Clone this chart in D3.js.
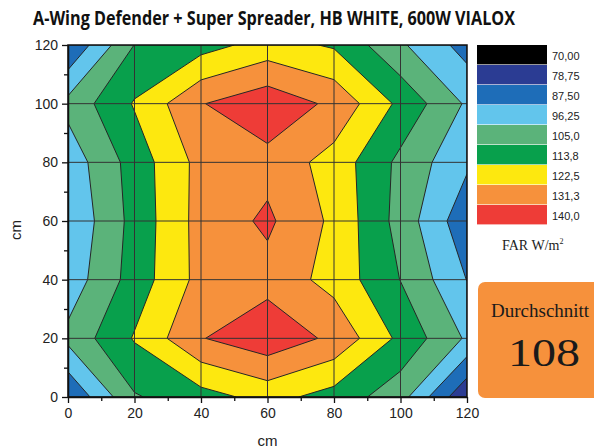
<!DOCTYPE html>
<html>
<head>
<meta charset="utf-8">
<script src="https://cdn.jsdelivr.net/npm/d3@7"></script>
<style>
  body { margin: 0; background: #fff; }
  svg { display: block; }
</style>
</head>
<body>
<svg id="chart" width="594" height="448"></svg>
<script>
// grid positions in cm
const xValues = [0, 20, 40, 60, 80, 100, 120];
const yValues = [0, 20, 40, 60, 80, 100, 120];

// FAR W/m2 readings, one row per y (from y = 0 up to y = 120), columns follow xValues
const farRow0 = [79.2, 104.2, 110.3, 116.8, 110.3, 99.8, 70.9];
const farRow20 = [98.6, 114.5, 130.8, 137.3, 129.3, 111.6, 95.0];
const farRow40 = [91.0, 108.8, 125.4, 128.2, 119.4, 104.8, 87.3];
const farRow60 = [88.5, 108.0, 125.8, 132.8, 120.6, 101.7, 81.4];
const farRow80 = [90.9, 108.8, 125.4, 128.4, 119.0, 102.8, 89.0];
const farRow100 = [98.9, 114.5, 130.8, 137.3, 129.3, 111.6, 95.0];
const farRow120 = [79.2, 105.2, 110.3, 117.2, 112.7, 97.6, 84.0];
const farRows = [farRow0, farRow20, farRow40, farRow60, farRow80, farRow100, farRow120];

// colour scale of the legend
const levels = [70, 78.75, 87.5, 96.25, 105, 113.75, 122.5, 131.25, 140];
const levelLabels = ["70,00", "78,75", "87,50", "96,25", "105,0", "113,8", "122,5", "131,3", "140,0"];
const levelColors = ["#000000", "#2b3c93", "#1e6db8", "#62c5ec", "#5bb37a", "#08a04c", "#fde80f", "#f6913c", "#ee3c37"];

const average = 108;
const title = "A-Wing Defender + Super Spreader, HB WHITE, 600W VIALOX";

let svg = d3.select("#chart"),
    margin = {top: 45, right: 127, bottom: 51, left: 68},
    width = 594 - margin.left - margin.right,
    height = 448 - margin.top - margin.bottom,
    x = d3.scaleLinear().domain([0, 120]).range([0, width]),
    y = d3.scaleLinear().domain([0, 120]).range([height, 0]);

// title, squeezed to the width of the condensed original
let titleSel = svg.append("text")
    .attr("x", 0)
    .attr("y", 0)
    .attr("text-anchor", "middle")
    .style("font-family", "'Open Sans', sans-serif")
    .style("font-weight", 700)
    .style("font-size", "20px")
    .style("fill", "#111")
    .text(title);
let titleLen = titleSel.node().getComputedTextLength();
titleSel.attr("transform", "translate(274,25) scale(" + (482 / titleLen) + ",1)");

let plot = svg.append("g")
    .attr("transform", "translate(" + margin.left + "," + margin.top + ")");

plot.append("defs").append("clipPath")
    .attr("id", "plot-clip")
    .append("rect")
    .attr("width", width)
    .attr("height", height);

// pad the grid by repeating the outer rows / columns so that
// the contours meet the plot border where the edge values say
let padded = [farRows[0]].concat(farRows, [farRows[farRows.length - 1]])
    .map(r => [r[0]].concat(r, [r[r.length - 1]]));
let nx = padded[0].length,
    ny = padded.length,
    gridValues = [].concat(...padded),
    step = xValues[1] - xValues[0],
    gx = d3.scaleLinear().domain([1.5, 2.5]).range([xValues[0], xValues[0] + step]),
    gy = d3.scaleLinear().domain([1.5, 2.5]).range([yValues[0], yValues[0] + step]);

let contours = d3.contours()
    .size([nx, ny])
    .thresholds(levels.slice(0, levels.length - 1))(gridValues);

let path = d3.geoPath(d3.geoTransform({
    point: function (px, py) {
        this.stream.point(x(gx(px)), y(gy(py)));
    }
}));

let bands = plot.append("g").attr("clip-path", "url(#plot-clip)");
bands.selectAll("path.band")
    .data(contours)
    .enter().append("path")
    .attr("class", "band")
    .attr("d", path)
    .attr("fill", (d, i) => levelColors[i + 1])
    .attr("stroke", "#262626")
    .attr("stroke-width", 1)
    .attr("stroke-linejoin", "round");

// grid lines
bands.selectAll("line.vgrid")
    .data(xValues)
    .enter().append("line")
    .attr("class", "vgrid")
    .attr("x1", d => x(d)).attr("x2", d => x(d))
    .attr("y1", 0).attr("y2", height)
    .attr("stroke", "#333")
    .attr("stroke-width", 1);
bands.selectAll("line.hgrid")
    .data(yValues)
    .enter().append("line")
    .attr("class", "hgrid")
    .attr("y1", d => y(d)).attr("y2", d => y(d))
    .attr("x1", 0).attr("x2", width)
    .attr("stroke", "#333")
    .attr("stroke-width", 1);

// frame
plot.append("rect")
    .attr("width", width)
    .attr("height", height)
    .attr("fill", "none")
    .attr("stroke", "#111")
    .attr("stroke-width", 1.5);

// axes
let minorTicks = d3.range(10, 120, 20);
plot.append("g")
    .attr("class", "axis axis--x")
    .attr("transform", "translate(0," + height + ")")
    .call(d3.axisBottom(x).tickValues(xValues).tickSize(6).tickSizeOuter(0).tickPadding(5));
plot.append("g")
    .attr("transform", "translate(0," + height + ")")
    .call(d3.axisBottom(x).tickValues(minorTicks).tickSize(4).tickFormat(""))
    .select(".domain").remove();
plot.append("g")
    .attr("class", "axis axis--y")
    .call(d3.axisLeft(y).tickValues(yValues).tickSize(6).tickSizeOuter(0).tickPadding(4));
plot.append("g")
    .call(d3.axisLeft(y).tickValues(minorTicks).tickSize(4).tickFormat(""))
    .select(".domain").remove();

plot.selectAll(".tick line").attr("stroke", "#111").attr("stroke-width", 1.3);
plot.selectAll(".domain").attr("stroke", "#111").attr("stroke-width", 1.5);
plot.selectAll(".tick text")
    .style("font-family", "'Liberation Sans', Arial, sans-serif")
    .style("font-size", "14px")
    .style("fill", "#222");

plot.append("text")
    .attr("x", x(60))
    .attr("y", height + 49)
    .attr("text-anchor", "middle")
    .style("font-family", "'Liberation Sans', Arial, sans-serif")
    .style("font-size", "15px")
    .style("fill", "#222")
    .text("cm");
plot.append("text")
    .attr("transform", "translate(-47," + (y(60) + 9) + ") rotate(-90)")
    .attr("text-anchor", "middle")
    .style("font-family", "'Liberation Sans', Arial, sans-serif")
    .style("font-size", "15px")
    .style("fill", "#222")
    .text("cm");

// legend
let legend = svg.append("g").attr("transform", "translate(477,45)");
let rowH = 20;
legend.selectAll("rect")
    .data(levelColors)
    .enter().append("rect")
    .attr("x", 0)
    .attr("y", (d, i) => i * rowH)
    .attr("width", 70)
    .attr("height", rowH - 0.6)
    .attr("fill", d => d);
legend.selectAll("text")
    .data(levelLabels)
    .enter().append("text")
    .attr("x", 75)
    .attr("y", (d, i) => i * rowH + 15)
    .style("font-family", "'Liberation Sans', Arial, sans-serif")
    .style("font-size", "11px")
    .style("fill", "#222")
    .text(d => d);

let unit = svg.append("text")
    .attr("x", 502)
    .attr("y", 250)
    .style("font-family", "'Liberation Serif', 'Times New Roman', serif")
    .style("font-size", "14px")
    .style("fill", "#222");
unit.append("tspan").text("FAR W/m");
unit.append("tspan").attr("dy", -6).style("font-size", "8px").text("2");

// average box
svg.append("rect")
    .attr("x", 478)
    .attr("y", 282)
    .attr("width", 140)
    .attr("height", 116)
    .attr("rx", 7)
    .attr("fill", levelColors[7]);
svg.append("text")
    .attr("x", 491)
    .attr("y", 317)
    .style("font-family", "'Liberation Serif', 'Times New Roman', serif")
    .style("font-size", "19px")
    .style("fill", "#1a1a1a")
    .text("Durchschnitt");
svg.append("text")
    .attr("x", 544)
    .attr("y", 366)
    .attr("text-anchor", "middle")
    .attr("textLength", 72)
    .attr("lengthAdjust", "spacingAndGlyphs")
    .style("font-family", "'Liberation Serif', 'Times New Roman', serif")
    .style("font-size", "40px")
    .style("fill", "#1a1a1a")
    .text(average);
</script>
</body>
</html>
